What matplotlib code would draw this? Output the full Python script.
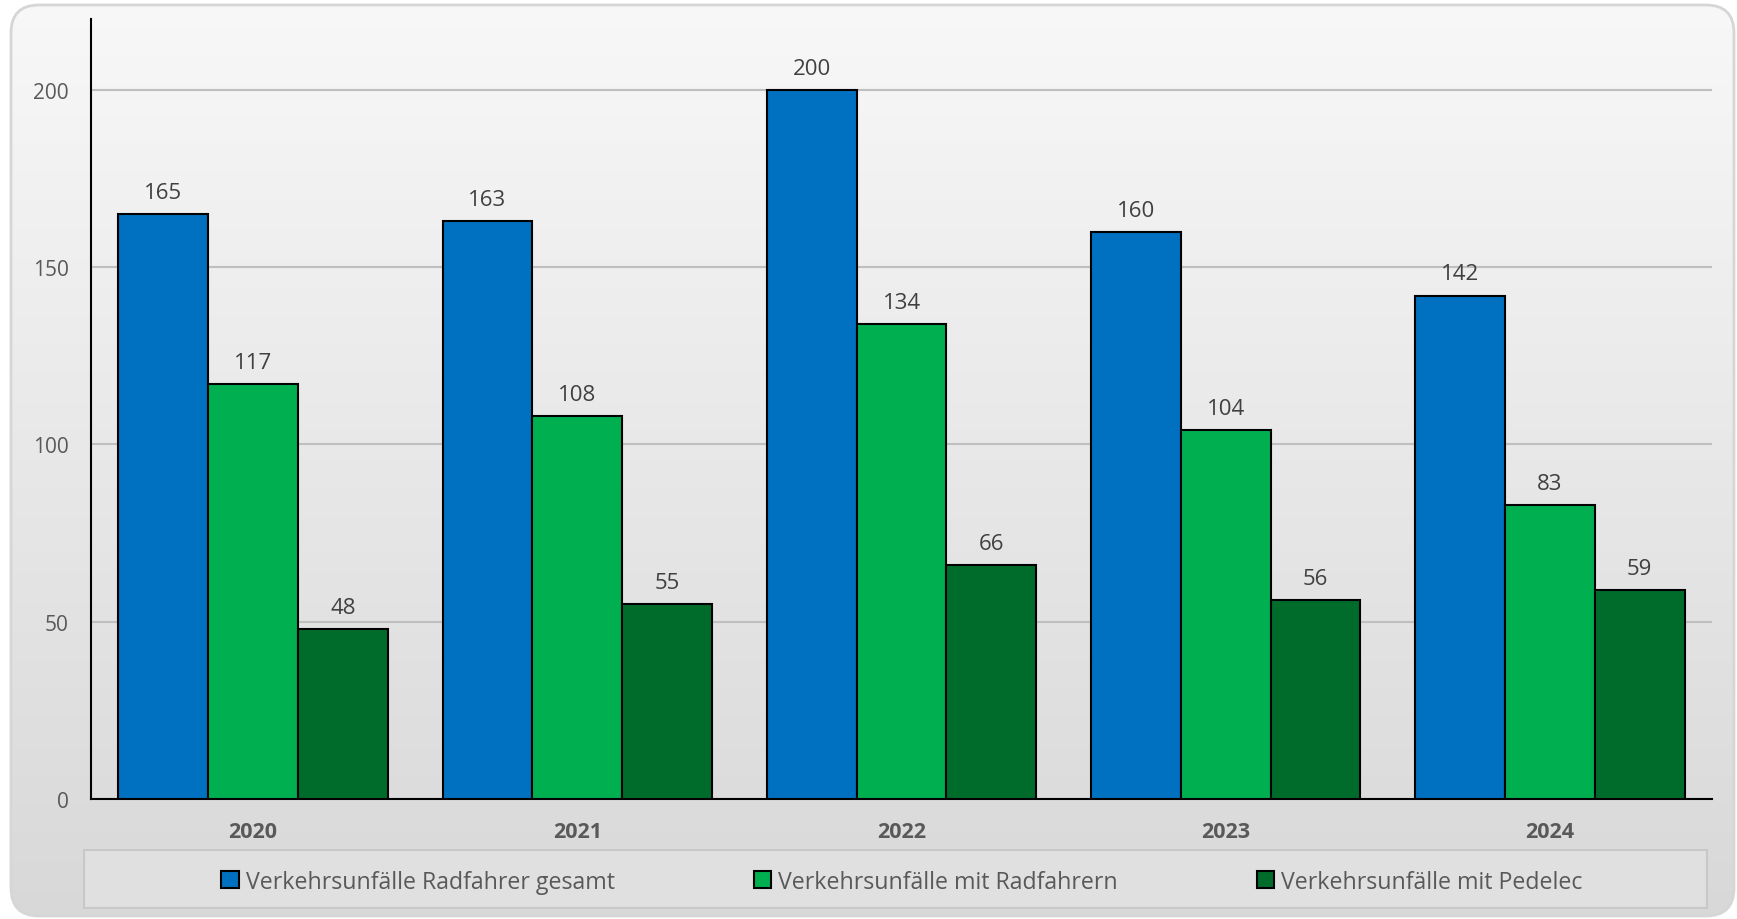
import numpy as np
import matplotlib.pyplot as plt
from matplotlib.patches import FancyBboxPatch, Rectangle

plt.rcParams['font.family'] = ['Open Sans', 'DejaVu Sans']

years = ["2020", "2021", "2022", "2023", "2024"]
gesamt = [165, 163, 200, 160, 142]
radfahrern = [117, 108, 134, 104, 83]
pedelec = [48, 55, 66, 56, 59]

labels = ["Verkehrsunfälle Radfahrer gesamt",
          "Verkehrsunfälle mit Radfahrern",
          "Verkehrsunfälle mit Pedelec"]
colors = ["#0070C0", "#00B050", "#006C2B"]
text_col = "#595959"

W, H = 1737, 920
fig = plt.figure(figsize=(W / 100, H / 100), dpi=100, facecolor="white")

# background: rounded box with a vertical gradient
bg = fig.add_axes([0, 0, 1, 1])
bg.set_xlim(0, W)
bg.set_ylim(0, H)
bg.axis("off")
grad = np.linspace(0, 1, 256).reshape(-1, 1)
im = bg.imshow(grad, extent=[0, W, 0, H], origin="lower", aspect="auto",
               cmap=plt.matplotlib.colors.LinearSegmentedColormap.from_list(
                   "g", ["#d8d8d8", "#f8f8f8"]), zorder=0)
box = FancyBboxPatch((11, 3), 1723, 911, boxstyle="round,pad=0,rounding_size=28",
                     facecolor="none", edgecolor="#d6d6d6", lw=2, zorder=2)
bg.add_patch(box)
im.set_clip_path(box)

# legend box
bg.add_patch(Rectangle((84, 11), 1623, 58, facecolor="#e0e0e0",
                       edgecolor="#c8c8c8", lw=1.5, zorder=1))

ax = fig.add_axes([91 / W, 1 - 800 / H, (1712 - 91) / W, (800 - 20) / H])
ax.patch.set_alpha(0)

x = np.arange(len(years))
bw = 0.277
series = [gesamt, radfahrern, pedelec]
handles = []
for i, (vals, c, lab) in enumerate(zip(series, colors, labels)):
    bars = ax.bar(x + (i - 1) * bw, vals, bw, color=c, edgecolor="black",
                  linewidth=1.5, label=lab, zorder=3)
    ax.bar_label(bars, padding=8, fontsize=16, color="#404040")
    handles.append(bars)

ax.set_xlim(-0.5, 4.5)
ax.set_ylim(0, 220)
ax.set_yticks([0, 50, 100, 150, 200])
ax.yaxis.grid(True, color="#bfbfbf", lw=1.5, zorder=0)
ax.set_axisbelow(True)
for s in ["top", "right"]:
    ax.spines[s].set_visible(False)
ax.spines["left"].set_linewidth(1.5)
ax.spines["bottom"].set_linewidth(1.5)
ax.tick_params(axis="y", length=0, pad=16, labelsize=15, labelcolor=text_col)
ax.tick_params(axis="x", length=0, pad=16, labelsize=15.5, labelcolor=text_col)
ax.set_xticks(x)
ax.set_xticklabels(years, fontweight="bold")

fig.legend(handles=handles, labels=labels, loc="center",
           bbox_to_anchor=(902 / W, 37 / H), ncol=3, frameon=False,
           fontsize=16.7, labelcolor=text_col, handlelength=0.75,
           handleheight=0.75, handletextpad=0.3, columnspacing=6.0)

fig.savefig("out.png", dpi=100, facecolor="white")
